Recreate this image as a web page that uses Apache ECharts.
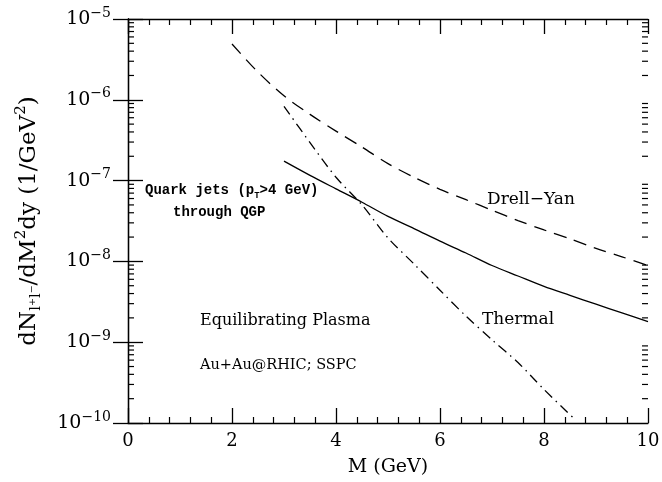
<!DOCTYPE html>
<html>
<head>
<meta charset="UTF-8">
<title>Dilepton mass spectrum</title>
<script src="https://cdn.jsdelivr.net/npm/echarts@6/dist/echarts.min.js"></script>
<style>
  body { margin: 0; background: #fff; }
  #chart { width: 662px; height: 482px; }
</style>
</head>
<body>
<div id="chart"></div>
<script>
// masses (GeV) and yields dN/dM^2dy (1/GeV^2)
const dyMass   = [2, 2.5, 3, 3.5, 4, 4.5, 5, 5.5, 6, 6.5, 7, 7.5, 8, 8.5, 9, 9.5, 10];
const dyYield  = [4.9e-6, 2.2e-6, 1.12e-6, 6.6e-7, 4.1e-7, 2.6e-7, 1.62e-7, 1.1e-7, 7.8e-8,
                  5.8e-8, 4.3e-8, 3.2e-8, 2.45e-8, 1.9e-8, 1.45e-8, 1.14e-8, 8.9e-9];

const qgpMass  = [3, 3.5, 4, 4.5, 5, 5.5, 6, 6.5, 7, 7.5, 8, 8.5, 9, 9.5, 10];
const qgpYield = [1.74e-7, 1.16e-7, 7.9e-8, 5.4e-8, 3.6e-8, 2.55e-8, 1.78e-8, 1.27e-8, 8.9e-9,
                  6.6e-9, 4.9e-9, 3.8e-9, 2.95e-9, 2.3e-9, 1.8e-9];

const thMass   = [3, 3.5, 4, 4.5, 5, 5.5, 6, 6.5, 7, 7.5, 8, 8.6];
const thYield  = [8.3e-7, 2.95e-7, 1.1e-7, 5.0e-8, 1.95e-8, 9.3e-9, 4.4e-9, 2.1e-9, 1.07e-9,
                  5.6e-10, 2.6e-10, 1.1e-10];

// log minor ticks (2..9 in each decade)
const minorTicks = [];
for (let e = -10; e < -5; e++) {
  for (let k = 2; k <= 9; k++) minorTicks.push(k * Math.pow(10, e));
}

const chart = echarts.init(document.getElementById('chart'));
const serif = 'DejaVu Serif';
const mono = 'Liberation Mono';

function pairs(xs, ys) { return xs.map((x, i) => [x, ys[i]]); }

function expLabel(v) {
  const e = Math.round(Math.log10(v));
  return '10{sup|\u2212' + Math.abs(e) + '}';
}

const axisLine = { show: true, lineStyle: { color: '#000', width: 1.3 } };

chart.setOption({
  animation: false,
  backgroundColor: '#fff',
  grid: { left: 128, right: 14, top: 19, bottom: 59, outerBoundsMode: 'none', containLabel: false },
  xAxis: [
    {
      type: 'value', min: 0, max: 10, interval: 2,
      name: 'M (GeV)', nameLocation: 'middle', nameGap: 35,
      nameTextStyle: { fontFamily: serif, fontSize: 19, color: '#000' },
      axisLine: axisLine,
      axisTick: { inside: true, length: 15, lineStyle: { color: '#000', width: 1.3 } },
      minorTick: { show: true, splitNumber: 5, length: 6, lineStyle: { color: '#000', width: 1.2 } },
      axisLabel: { fontFamily: serif, fontSize: 18, color: '#000', margin: 9 },
      splitLine: { show: false }
    },
    {
      type: 'value', min: 0, max: 10, interval: 2, position: 'top',
      axisLine: axisLine,
      axisTick: { inside: true, length: 15, lineStyle: { color: '#000', width: 1.3 } },
      minorTick: { show: true, splitNumber: 5, length: 6, lineStyle: { color: '#000', width: 1.2 } },
      axisLabel: { show: false },
      splitLine: { show: false }
    }
  ],
  yAxis: [
    {
      type: 'log', logBase: 10, min: 1e-10, max: 1e-5, interval: 1,
      name: 'dN{sub|l\u207Al\u207B}/dM{sup|2}dy (1/GeV{sup|2})',
      nameLocation: 'middle', nameRotate: 90, nameGap: 84,
      nameTextStyle: {
        fontFamily: serif, fontSize: 23, color: '#000', lineHeight: 30,
        rich: {
          sub: { fontFamily: serif, fontSize: 15, verticalAlign: 'bottom', lineHeight: 30 },
          sup: { fontFamily: serif, fontSize: 15, verticalAlign: 'top', lineHeight: 30 }
        }
      },
      axisLine: axisLine,
      axisTick: { inside: true, length: 15, lineStyle: { color: '#000', width: 1.3 } },
      axisLabel: {
        formatter: expLabel, margin: 17, color: '#000',
        fontFamily: serif, fontSize: 19, lineHeight: 26,
        rich: { sup: { fontFamily: serif, fontSize: 14, verticalAlign: 'top', lineHeight: 26 } }
      },
      splitLine: { show: false }
    },
    {
      type: 'log', logBase: 10, min: 1e-10, max: 1e-5, interval: 1, position: 'right',
      axisLine: axisLine,
      axisTick: { inside: true, length: 15, lineStyle: { color: '#000', width: 1.3 } },
      axisLabel: { show: false },
      splitLine: { show: false }
    }
  ],
  series: [
    {
      name: 'Drell-Yan', type: 'line', data: pairs(dyMass, dyYield),
      showSymbol: false, smooth: 0.3,
      lineStyle: { color: '#000', width: 1.3, type: [13, 8] }
    },
    {
      name: 'Quark jets', type: 'line', data: pairs(qgpMass, qgpYield),
      showSymbol: false, smooth: 0.3,
      lineStyle: { color: '#000', width: 1.3, type: 'solid' }
    },
    {
      name: 'Thermal', type: 'line', data: pairs(thMass, thYield),
      showSymbol: false, smooth: 0.3,
      lineStyle: { color: '#000', width: 1.3, type: [10, 5, 1.5, 5] }
    },
    {
      // log minor ticks on left and right frame
      type: 'custom', silent: true, clip: false,
      data: minorTicks.map(v => [0, v]),
      renderItem: function (params, api) {
        const v = api.value(1);
        const l = api.coord([0, v]);
        const r = api.coord([10, v]);
        const st = { stroke: '#000', lineWidth: 1.2 };
        return {
          type: 'group',
          children: [
            { type: 'line', shape: { x1: l[0], y1: l[1], x2: l[0] + 6, y2: l[1] }, style: st },
            { type: 'line', shape: { x1: r[0], y1: r[1], x2: r[0] - 6, y2: r[1] }, style: st }
          ]
        };
      }
    }
  ],
  graphic: [
    {
      type: 'text', left: 145, top: 181,
      style: {
        text: 'Quark jets (p{sub|T}>4 GeV)', fill: '#000',
        font: 'bold 14px "' + mono + '"',
        rich: { sub: { font: 'bold 9px "' + mono + '"', verticalAlign: 'bottom', lineHeight: 19 } },
        lineHeight: 19
      }
    },
    {
      type: 'text', left: 173, top: 205,
      style: { text: 'through QGP', fill: '#000', font: 'bold 14px "' + mono + '"' }
    },
    {
      type: 'text', left: 487, top: 191,
      style: { text: 'Drell\u2212Yan', fill: '#000', font: '17px "' + serif + '"' }
    },
    {
      type: 'text', left: 482, top: 311,
      style: { text: 'Thermal', fill: '#000', font: '17px "' + serif + '"' }
    },
    {
      type: 'text', left: 200, top: 313,
      style: { text: 'Equilibrating Plasma', fill: '#000', font: '16px "' + serif + '"' }
    },
    {
      type: 'text', left: 200, top: 358,
      style: { text: 'Au+Au@RHIC; SSPC', fill: '#000', font: '14.5px "' + serif + '"' }
    }
  ]
});
</script>
</body>
</html>
